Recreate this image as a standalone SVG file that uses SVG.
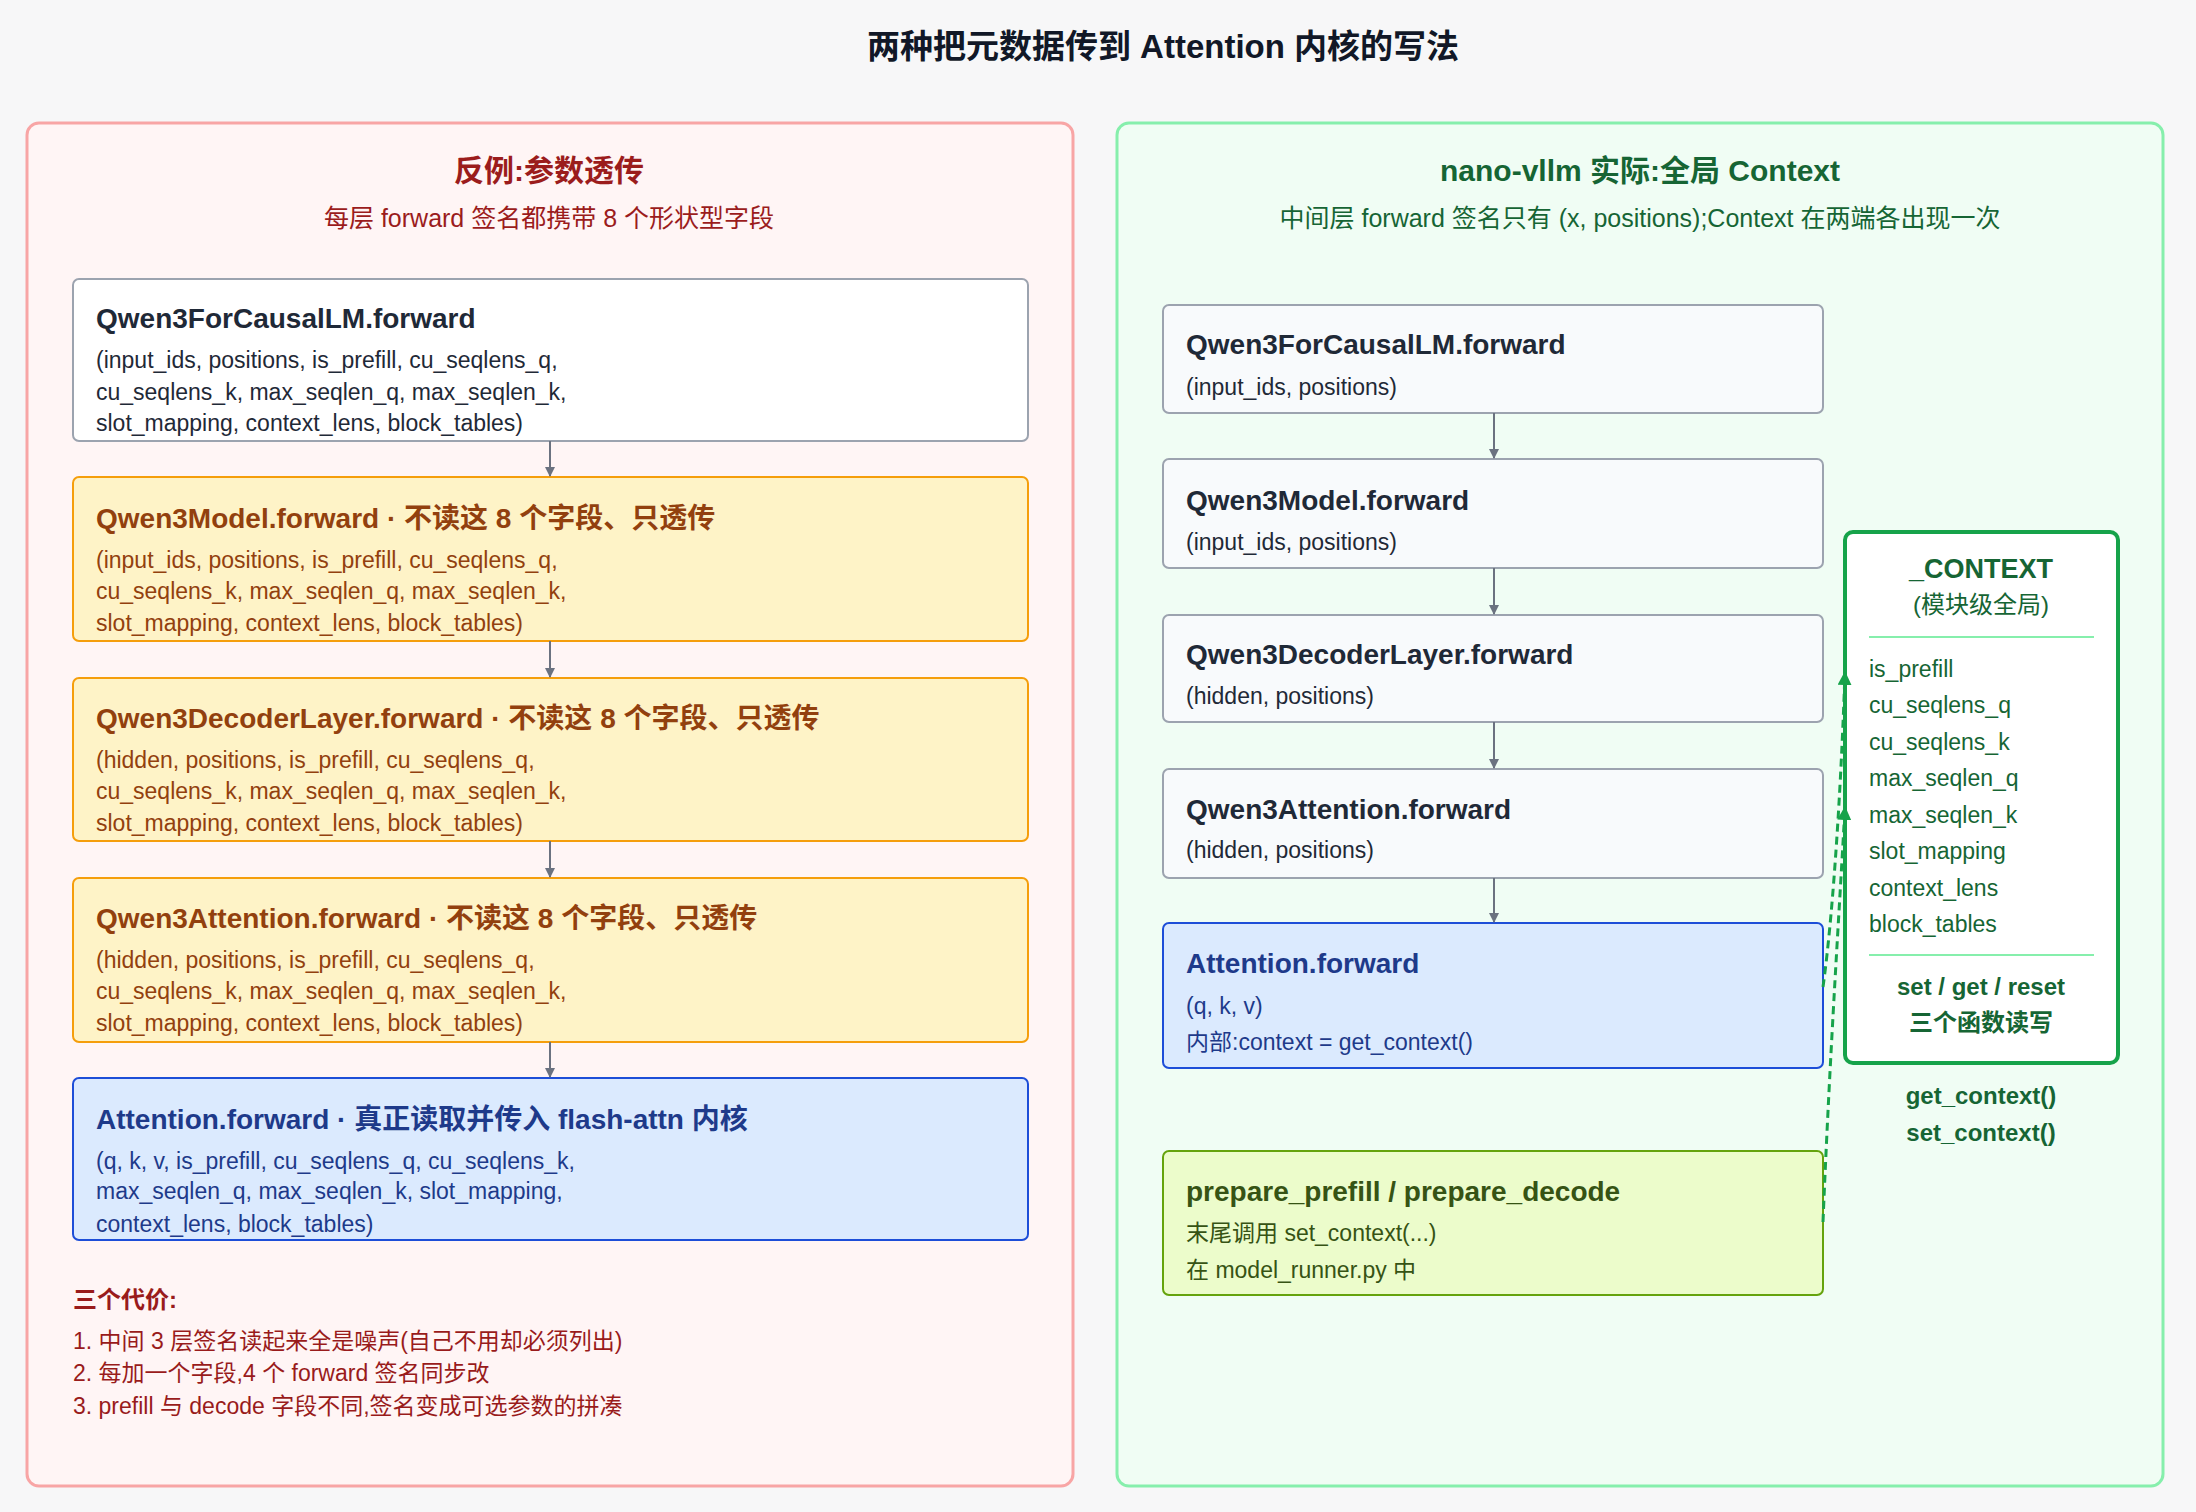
<svg xmlns="http://www.w3.org/2000/svg" width="2196" height="1512" viewBox="0 0 2196 1512">
<defs>
<style>
text{font-family:"Liberation Sans","Noto Sans CJK SC",sans-serif}
.t{font-size:28px;font-weight:bold}
.b{font-size:23px}
.w{fill:#fff;stroke:#9ca3af;stroke-width:2}
.y{fill:#fef3c7;stroke:#f59e0b;stroke-width:2}
.bl{fill:#dbeafe;stroke:#1d4ed8;stroke-width:2}
.g{fill:#f8fafc;stroke:#9ca3af;stroke-width:2}
.lg{fill:#ecfccb;stroke:#65a30d;stroke-width:2}
.dk{fill:#1f2937}
.br{fill:#92400e}
.nv{fill:#1e3a8a}
.ol{fill:#365314}
.gr{fill:#166534}
.conn{stroke:#6b7280;stroke-width:2;fill:none}
.dash{stroke:#16a34a;stroke-width:3;fill:none;stroke-dasharray:8 5}
</style>
<marker id="ah" markerWidth="10" markerHeight="10" refX="9" refY="5" orient="auto" markerUnits="userSpaceOnUse" viewBox="0 0 10 10"><path d="M0,0 L10,5 L0,10 z" fill="#6b7280"/></marker>
<marker id="ag" markerWidth="14" markerHeight="14" refX="13" refY="7" orient="auto" markerUnits="userSpaceOnUse" viewBox="0 0 14 14"><path d="M0,0 L14,7 L0,14 z" fill="#16a34a"/></marker>
</defs>
<rect width="2196" height="1512" fill="#f7f7f8"/>
<text x="1163" y="58" text-anchor="middle" font-size="33" font-weight="bold" fill="#111827">两种把元数据传到 Attention 内核的写法</text>

<g id="left-panel">
<rect x="27" y="123" width="1046" height="1363" rx="12" fill="#fff5f5" stroke="#f8a5a5" stroke-width="3"/>
<text x="549" y="181" text-anchor="middle" font-size="30" font-weight="bold" fill="#9b1c1c">反例:参数透传</text>
<text x="549" y="227" text-anchor="middle" font-size="25" fill="#9b1c1c">每层 forward 签名都携带 8 个形状型字段</text>
</g>
<g id="l1">
<rect class="w" x="73" y="279" width="955" height="162" rx="6"/>
<text class="t dk" x="96" y="328">Qwen3ForCausalLM.forward</text>
<text class="b dk" x="96" y="368">(input_ids, positions, is_prefill, cu_seqlens_q,</text>
<text class="b dk" x="96" y="400">cu_seqlens_k, max_seqlen_q, max_seqlen_k,</text>
<text class="b dk" x="96" y="431">slot_mapping, context_lens, block_tables)</text>
</g>
<g id="l2">
<rect class="y" x="73" y="477" width="955" height="164" rx="6"/>
<text class="t br" x="96" y="528">Qwen3Model.forward · 不读这 8 个字段、只透传</text>
<text class="b br" x="96" y="568">(input_ids, positions, is_prefill, cu_seqlens_q,</text>
<text class="b br" x="96" y="599">cu_seqlens_k, max_seqlen_q, max_seqlen_k,</text>
<text class="b br" x="96" y="631">slot_mapping, context_lens, block_tables)</text>
</g>
<g id="l3">
<rect class="y" x="73" y="678" width="955" height="163" rx="6"/>
<text class="t br" x="96" y="728">Qwen3DecoderLayer.forward · 不读这 8 个字段、只透传</text>
<text class="b br" x="96" y="768">(hidden, positions, is_prefill, cu_seqlens_q,</text>
<text class="b br" x="96" y="799">cu_seqlens_k, max_seqlen_q, max_seqlen_k,</text>
<text class="b br" x="96" y="831">slot_mapping, context_lens, block_tables)</text>
</g>
<g id="l4">
<rect class="y" x="73" y="878" width="955" height="164" rx="6"/>
<text class="t br" x="96" y="928">Qwen3Attention.forward · 不读这 8 个字段、只透传</text>
<text class="b br" x="96" y="968">(hidden, positions, is_prefill, cu_seqlens_q,</text>
<text class="b br" x="96" y="999">cu_seqlens_k, max_seqlen_q, max_seqlen_k,</text>
<text class="b br" x="96" y="1031">slot_mapping, context_lens, block_tables)</text>
</g>
<g id="l5">
<rect class="bl" x="73" y="1078" width="955" height="162" rx="6"/>
<text class="t nv" x="96" y="1129">Attention.forward · 真正读取并传入 flash-attn 内核</text>
<text class="b nv" x="96" y="1169">(q, k, v, is_prefill, cu_seqlens_q, cu_seqlens_k,</text>
<text class="b nv" x="96" y="1199">max_seqlen_q, max_seqlen_k, slot_mapping,</text>
<text class="b nv" x="96" y="1232">context_lens, block_tables)</text>
</g>
<g id="costs">
<text x="73" y="1308" font-size="24" font-weight="bold" fill="#991b1b">三个代价:</text>
<text x="73" y="1349" font-size="23" fill="#991b1b">1. 中间 3 层签名读起来全是噪声(自己不用却必须列出)</text>
<text x="73" y="1381" font-size="23" fill="#991b1b">2. 每加一个字段,4 个 forward 签名同步改</text>
<text x="73" y="1414" font-size="23" fill="#991b1b">3. prefill 与 decode 字段不同,签名变成可选参数的拼凑</text>
</g>

<g id="right-panel">
<rect x="1117" y="123" width="1046" height="1363" rx="12" fill="#f0fdf4" stroke="#86efac" stroke-width="3"/>
<text x="1640" y="181" text-anchor="middle" font-size="30" font-weight="bold" fill="#166534">nano-vllm 实际:全局 Context</text>
<text x="1640" y="227" text-anchor="middle" font-size="25" fill="#166534">中间层 forward 签名只有 (x, positions);Context 在两端各出现一次</text>
</g>
<g id="r1">
<rect class="g" x="1163" y="305" width="660" height="108" rx="6"/>
<text class="t dk" x="1186" y="354">Qwen3ForCausalLM.forward</text>
<text class="b dk" x="1186" y="395">(input_ids, positions)</text>
</g>
<g id="r2">
<rect class="g" x="1163" y="459" width="660" height="109" rx="6"/>
<text class="t dk" x="1186" y="510">Qwen3Model.forward</text>
<text class="b dk" x="1186" y="550">(input_ids, positions)</text>
</g>
<g id="r3">
<rect class="g" x="1163" y="615" width="660" height="107" rx="6"/>
<text class="t dk" x="1186" y="664">Qwen3DecoderLayer.forward</text>
<text class="b dk" x="1186" y="704">(hidden, positions)</text>
</g>
<g id="r4">
<rect class="g" x="1163" y="769" width="660" height="109" rx="6"/>
<text class="t dk" x="1186" y="819">Qwen3Attention.forward</text>
<text class="b dk" x="1186" y="858">(hidden, positions)</text>
</g>
<g id="r5">
<rect class="bl" x="1163" y="923" width="660" height="145" rx="6"/>
<text class="t nv" x="1186" y="973">Attention.forward</text>
<text class="b nv" x="1186" y="1014">(q, k, v)</text>
<text class="b nv" x="1186" y="1050">内部:context = get_context()</text>
</g>
<g id="r6">
<rect class="lg" x="1163" y="1151" width="660" height="144" rx="6"/>
<text class="t ol" x="1186" y="1201">prepare_prefill / prepare_decode</text>
<text class="b ol" x="1186" y="1241">末尾调用 set_context(...)</text>
<text class="b ol" x="1186" y="1278">在 model_runner.py 中</text>
</g>
<g id="context">
<rect x="1845" y="532" width="273" height="531" rx="8" fill="#fff" stroke="#16a34a" stroke-width="4"/>
<text x="1981" y="578" text-anchor="middle" font-size="27" font-weight="bold" fill="#166534">_CONTEXT</text>
<text x="1981" y="613" text-anchor="middle" font-size="24" fill="#166534">(模块级全局)</text>
<line x1="1869" y1="637" x2="2094" y2="637" stroke="#86efac" stroke-width="2"/>
<g font-size="23" fill="#166534">
<text x="1869" y="677">is_prefill</text>
<text x="1869" y="713">cu_seqlens_q</text>
<text x="1869" y="750">cu_seqlens_k</text>
<text x="1869" y="786">max_seqlen_q</text>
<text x="1869" y="823">max_seqlen_k</text>
<text x="1869" y="859">slot_mapping</text>
<text x="1869" y="896">context_lens</text>
<text x="1869" y="932">block_tables</text>
</g>
<line x1="1869" y1="955" x2="2094" y2="955" stroke="#86efac" stroke-width="2"/>
<text x="1981" y="995" text-anchor="middle" font-size="24" font-weight="bold" fill="#166534">set / get / reset</text>
<text x="1981" y="1031" text-anchor="middle" font-size="24" font-weight="bold" fill="#166534">三个函数读写</text>
<text x="1981" y="1104" text-anchor="middle" font-size="24" font-weight="bold" fill="#166534">get_context()</text>
<text x="1981" y="1141" text-anchor="middle" font-size="24" font-weight="bold" fill="#166534">set_context()</text>
</g>

<g id="connectors">
<line class="conn" x1="550" y1="441" x2="550" y2="476" marker-end="url(#ah)"/>
<line class="conn" x1="550" y1="641" x2="550" y2="677" marker-end="url(#ah)"/>
<line class="conn" x1="550" y1="841" x2="550" y2="877" marker-end="url(#ah)"/>
<line class="conn" x1="550" y1="1042" x2="550" y2="1077" marker-end="url(#ah)"/>
<line class="conn" x1="1494" y1="413" x2="1494" y2="458" marker-end="url(#ah)"/>
<line class="conn" x1="1494" y1="568" x2="1494" y2="614" marker-end="url(#ah)"/>
<line class="conn" x1="1494" y1="722" x2="1494" y2="768" marker-end="url(#ah)"/>
<line class="conn" x1="1494" y1="878" x2="1494" y2="922" marker-end="url(#ah)"/>
<path class="dash" d="M1823,987 C1835,900 1842,760 1845,672" marker-end="url(#ag)"/>
<path class="dash" d="M1823,1222 C1830,1050 1840,900 1845,807" marker-end="url(#ag)"/>
</g>
</svg>
